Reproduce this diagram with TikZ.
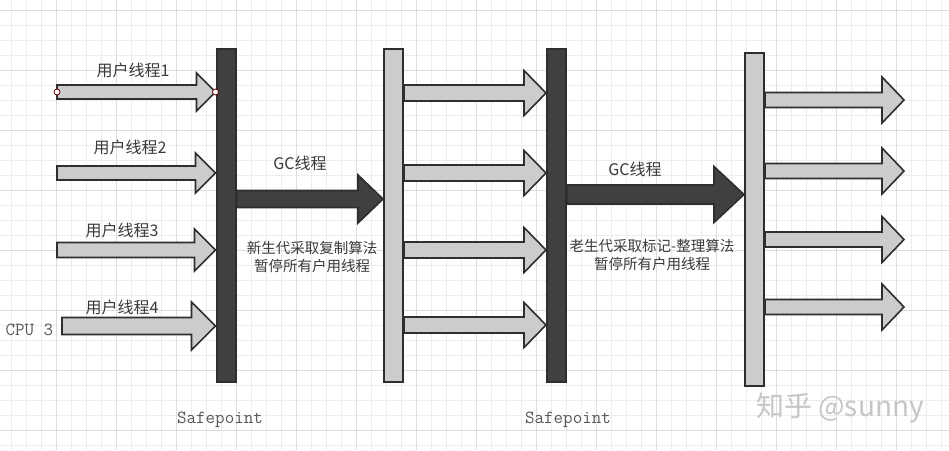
\documentclass[tikz,border=0pt]{standalone}
\usepackage{fontspec}
\usepackage{xcolor}
\usepackage{tikz}
\usetikzlibrary{calc}
\newfontfamily\cnfont{Noto Sans CJK SC}
\definecolor{barDark}{HTML}{404040}
\definecolor{barLight}{HTML}{CCCCCC}
\definecolor{edge}{HTML}{2E2E2E}
\definecolor{gridMinor}{HTML}{EDEDED}
\definecolor{gridMajor}{HTML}{DDDDDD}
\definecolor{txt}{HTML}{3A3A3A}

\begin{document}
\begin{tikzpicture}[
    x=1pt, y=-1pt,
    font=\cnfont,
    darkbar/.style={
        rectangle,
        draw=edge,
        fill=barDark,
        line width=2pt,
        minimum width=19pt,
        minimum height=333pt,
        inner sep=0pt
    },
    lightbar/.style={darkbar, fill=barLight},
    thin/.style={draw=edge, fill=barLight, line width=1.6pt},
    heavy/.style={draw=edge, fill=barDark, line width=1.6pt},
    lbl/.style={text=txt, font=\cnfont\fontsize{16}{18}\selectfont},
    note/.style={text=txt, align=center, font=\cnfont\fontsize{14.5}{18}\selectfont},
    code/.style={text=txt!85, font=\ttfamily\fontsize{18.5}{20}\selectfont},
    dot/.style={circle, draw=red!40!black, fill=white, line width=0.8pt, minimum size=6pt, inner sep=0pt}
]

% block arrow: style, from, to, half shaft, half head, head length
\def\blkarrow#1#2#3#4#5#6{%
    \draw[#1] let \p1=(#2), \p2=(#3) in
        (\x1,\y1+#4) -- (\x2-#6,\y1+#4) -- (\x2-#6,\y1+#5) -- (\x2,\y1)
        -- (\x2-#6,\y1-#5) -- (\x2-#6,\y1-#4) -- (\x1,\y1-#4) -- cycle;}

\useasboundingbox (0,0) rectangle (949,450);

% Grid
\fill[white] (0,0) rectangle (949,450);
\foreach \gx in {0,...,62} \draw[gridMinor, line width=0.6pt] ({11.7+15*\gx},0) -- ++(0,450);
\foreach \gy in {0,...,29} \draw[gridMinor, line width=0.6pt] (0,{10+15*\gy}) -- ++(949,0);
\foreach \gx in {0,...,15} \draw[gridMajor, line width=0.6pt] ({56.7+60*\gx},0) -- ++(0,450);
\foreach \gy in {0,...,7} \draw[gridMajor, line width=0.6pt] (0,{10+60*\gy}) -- ++(949,0);

% Bars
\node[darkbar]  (sp1) at (226,215.5) {};
\node[lightbar] (yg1) at (393.5,215.5) {};
\node[darkbar]  (sp2) at (556.5,215.5) {};
\node[lightbar] (yg2) at (754.5,219) {};

% User threads
\coordinate (t1) at (57,92);
\coordinate (t2) at (57,173);
\coordinate (t3) at (57,250);
\coordinate (t4) at (62,326);
\blkarrow{thin}{t1}{t1 -| sp1.west}{7pt}{19pt}{19pt}
\blkarrow{thin}{t2}{t2 -| sp1.west}{7pt}{20pt}{20pt}
\blkarrow{thin}{t3}{t3 -| sp1.west}{7.5pt}{21pt}{21pt}
\blkarrow{thin}{t4}{t4 -| sp1.west}{8.5pt}{24pt}{24pt}
\node[dot] (d1) at (t1) {};
\node[dot] (d2) at (t1 -| sp1.west) {};

\node[lbl] (u1) at (133,70) {用户线程1};
\node[lbl] (u2) at (130,147) {用户线程2};
\node[lbl] (u3) at (122,230) {用户线程3};
\node[lbl] (u4) at (122,307) {用户线程4};
\node[code, anchor=west] (cpu) at (2,330) {CPU 3};

% GC threads
\coordinate (g1) at (sp1.east |- 0,199);
\coordinate (g2) at (sp2.east |- 0,194.5);
\blkarrow{heavy}{g1}{g1 -| yg1.west}{8.5pt}{24pt}{25pt}
\blkarrow{heavy}{g2}{g2 -| yg2.west}{9.5pt}{28pt}{30pt}

\node[lbl] (gc1) at (300,163) {GC线程};
\node[lbl] (gc2) at (635,169) {GC线程};
\node[note] (n1) at (312,257) {新生代采取复制算法\\暂停所有户用线程};
\node[note] (n2) at (652,254.5) {老生代采取标记-整理算法\\暂停所有户用线程};

% Resumed threads
\coordinate (c1) at (yg1.east |- 0,93);
\coordinate (c2) at (yg1.east |- 0,173);
\coordinate (c3) at (yg1.east |- 0,250);
\coordinate (c4) at (yg1.east |- 0,325);
\blkarrow{thin}{c1}{c1 -| sp2.west}{8pt}{22.5pt}{22pt}
\blkarrow{thin}{c2}{c2 -| sp2.west}{8pt}{22.5pt}{22pt}
\blkarrow{thin}{c3}{c3 -| sp2.west}{8pt}{22.5pt}{22pt}
\blkarrow{thin}{c4}{c4 -| sp2.west}{8pt}{22.5pt}{22pt}

\coordinate (r1) at (yg2.east |- 0,100);
\coordinate (r2) at (yg2.east |- 0,171);
\coordinate (r3) at (yg2.east |- 0,239.5);
\coordinate (r4) at (yg2.east |- 0,307);
\coordinate (e1) at (904,100);
\coordinate (e2) at (904,171);
\coordinate (e3) at (904,239.5);
\coordinate (e4) at (904,307);
\blkarrow{thin}{r1}{e1}{7.5pt}{23pt}{22pt}
\blkarrow{thin}{r2}{e2}{7.5pt}{23pt}{22pt}
\blkarrow{thin}{r3}{e3}{7.5pt}{23pt}{22pt}
\blkarrow{thin}{r4}{e4}{7.5pt}{23pt}{22pt}

% Labels
\node[code] (s1) at (220,420) {Safepoint};
\node[code] (s2) at (568,420) {Safepoint};
\node[text=gray!45, font=\cnfont\fontsize{28}{30}\selectfont] (mark) at (840,408) {知乎 @sunny};

\end{tikzpicture}
\end{document}
